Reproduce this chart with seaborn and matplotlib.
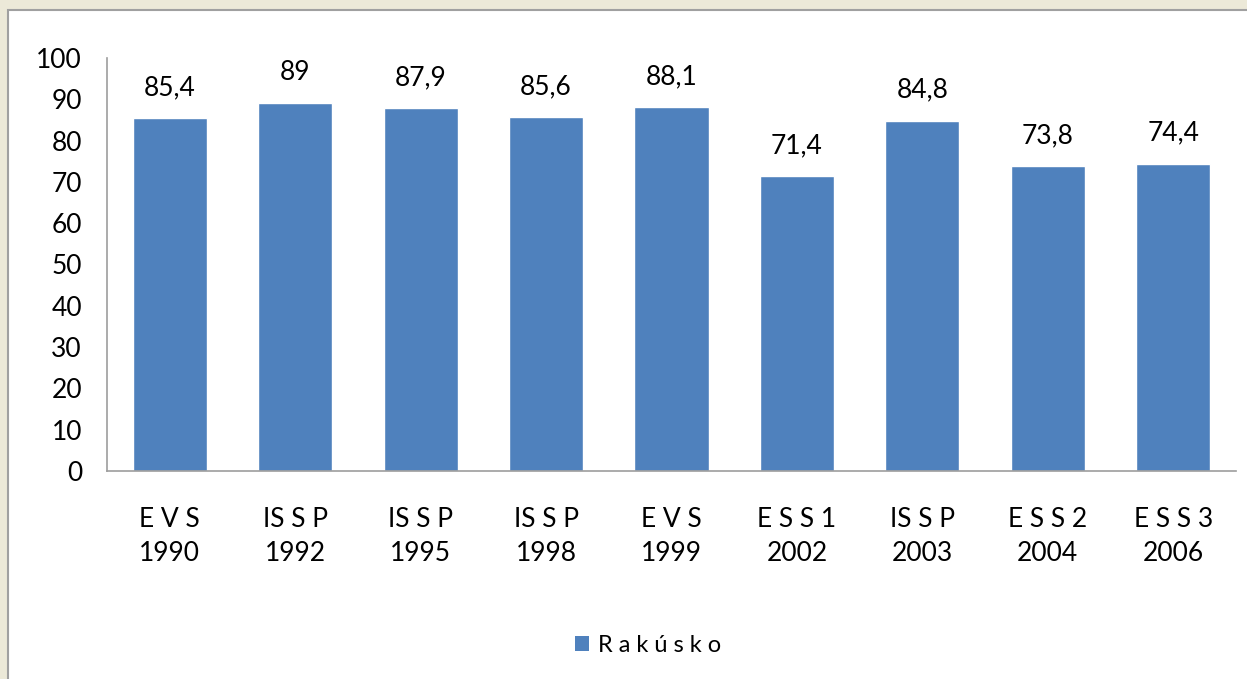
import matplotlib
matplotlib.use("Agg")
import matplotlib.pyplot as plt
from matplotlib.patches import Rectangle, Patch
import pandas as pd
import seaborn as sns

surveys = ["E V S", "IS S P", "IS S P", "IS S P", "E V S", "E S S 1", "IS S P", "E S S 2", "E S S 3"]
years = ["1990", "1992", "1995", "1998", "1999", "2002", "2003", "2004", "2006"]
values = [85.4, 89, 87.9, 85.6, 88.1, 71.4, 84.8, 73.8, 74.4]
series_name = "R a k ú s k o"

bar_color = "#4F81BD"
axis_grey = "#9D9D9D"

sns.set_theme(style="white")
plt.rcParams["font.family"] = ["Lato", "DejaVu Sans"]
plt.rcParams["text.color"] = "black"

df = pd.DataFrame({"label": [f"{s}\n{y}" for s, y in zip(surveys, years)], "value": values})

fig = plt.figure(figsize=(12.47, 6.79), dpi=100)
fig.patch.set_facecolor("#ECE9D8")
# white chart frame with grey border on top/left
frame = Rectangle((8 / 1247, -0.05), 1.1, (679 - 10) / 679 + 0.05,
                  transform=fig.transFigure, facecolor="white",
                  edgecolor="#A0A0A0", linewidth=1.5, zorder=-5)
fig.patches.append(frame)

ax = fig.add_axes([107 / 1247, 208 / 679, (1236 - 107) / 1247, (471 - 58) / 679])
ax.set_facecolor("none")
sns.barplot(data=df, x="label", y="value", color=bar_color, saturation=1, width=0.59, ax=ax)

for i, v in enumerate(values):
    txt = f"{v:g}".replace(".", ",")
    ax.annotate(txt, (i, v), xytext=(0, 22), textcoords="offset points",
                ha="center", va="center", fontsize=19, color="black")

ax.set_ylim(0, 100)
ax.set_yticks(range(0, 101, 10))
ax.set_xlim(-0.5, len(values) - 0.5)
ax.set_xlabel("")
ax.set_ylabel("")
ax.tick_params(axis="y", length=0, pad=18, labelsize=19, colors="black")
ax.tick_params(axis="x", length=0, pad=26, labelsize=19, colors="black")
for lbl in ax.get_xticklabels():
    lbl.set_linespacing(1.45)

for side in ["top", "right"]:
    ax.spines[side].set_visible(False)
for side in ["left", "bottom"]:
    ax.spines[side].set_color(axis_grey)
    ax.spines[side].set_linewidth(1.2)

handle = Patch(facecolor=bar_color, edgecolor="none")
fig.legend([handle], [series_name], loc="center", bbox_to_anchor=(648 / 1247, 1 - 645 / 679),
           frameon=False, fontsize=17, handlelength=0.6, handleheight=0.6, handletextpad=0.4,
           labelcolor="black")

fig.savefig("out.png", dpi=100, facecolor=fig.get_facecolor())
